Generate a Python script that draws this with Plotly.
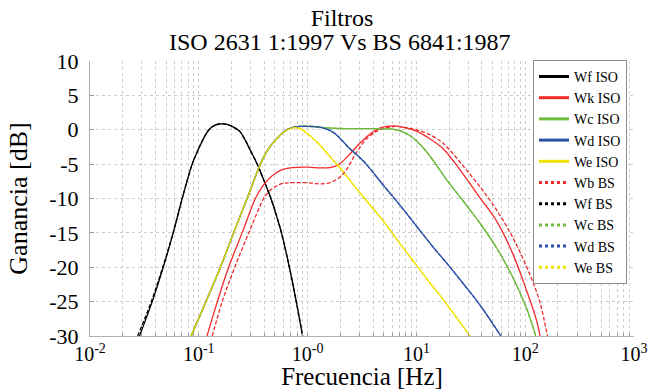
import plotly.graph_objects as go

# ---------------- data ----------------
wf_iso_f = [0.0285, 0.0373, 0.0471, 0.0582, 0.0704, 0.0869, 0.095, 0.102, 0.112, 0.124, 0.135, 0.150, 0.169, 0.188, 0.210, 0.237, 0.265, 0.298, 0.344, 0.40, 0.46, 0.52, 0.575, 0.68, 0.787, 0.90]
wf_iso_g = [-30, -25, -20, -15, -10, -5, -3.5, -2.4, -1.1, 0, 0.5, 0.8, 0.85, 0.7, 0.35, -0.2, -1.4, -3, -5, -7.5, -10, -12.6, -15, -20, -25, -30]

wk_iso_f = [0.119, 0.148, 0.188, 0.250, 0.331, 0.382, 0.420, 0.455, 0.50, 0.562, 0.63, 0.72, 1.0, 1.3, 1.61, 1.8, 2.0, 2.46, 3.0, 3.5, 4.0, 4.6, 5.34, 6.1, 6.9, 8.15, 10, 12.4, 17.7, 27, 38.4, 54.7, 77.7, 103, 127, 137]
wk_iso_g = [-30, -25, -20, -15, -10, -8.3, -7.5, -6.9, -6.4, -5.9, -5.65, -5.5, -5.45, -5.55, -5.5, -5.3, -4.9, -3.5, -2.0, -1.0, -0.3, 0.25, 0.5, 0.55, 0.5, 0.25, -0.2, -1.0, -2.8, -6.5, -9.9, -13.3, -18.2, -23.4, -27.7, -30]

wc_iso_f = [0.085, 0.158, 0.209, 0.278, 0.368, 0.40, 0.44, 0.50, 0.56, 0.63, 0.72, 0.85, 1.0, 1.3, 2.0, 4.0, 5.5, 6.5, 7.5, 8.6, 10, 12.4, 16.5, 19, 27, 38.4, 54.7, 77.7, 103, 125]
wc_iso_g = [-30, -20, -15, -10, -5, -3.8, -2.7, -1.6, -0.8, -0.1, 0.3, 0.48, 0.5, 0.35, 0.18, 0.15, 0.12, 0.0, -0.3, -0.8, -1.6, -3.2, -5.9, -7.3, -10.4, -13.6, -17.2, -21.6, -26, -30]

wd_iso_f = [0.085, 0.158, 0.209, 0.278, 0.368, 0.40, 0.44, 0.50, 0.56, 0.63, 0.72, 0.85, 1.0, 1.2, 1.4, 1.6, 1.8, 2.0, 2.46, 3.0, 3.5, 4.98, 7.08, 10, 14.3, 19, 27, 38.4, 59.8]
wd_iso_g = [-30, -20, -15, -10, -5, -3.8, -2.7, -1.6, -0.8, -0.1, 0.3, 0.48, 0.5, 0.45, 0.25, -0.1, -0.6, -1.3, -2.8, -4.0, -5.1, -8.1, -11, -14, -17.1, -19.4, -22.4, -25.5, -30]

we_iso_f = [0.085, 0.158, 0.209, 0.278, 0.368, 0.40, 0.44, 0.50, 0.56, 0.63, 0.70, 0.77, 0.85, 0.93, 1.0, 1.15, 1.31, 1.73, 2.0, 2.46, 3.0, 3.5, 4.98, 7.08, 10, 14.3, 16.5, 31.1]
we_iso_g = [-30, -20, -15, -10, -5, -3.8, -2.7, -1.6, -0.8, -0.15, 0.2, 0.3, 0.15, -0.2, -0.6, -1.4, -2.3, -4.5, -5.6, -7.4, -9.1, -10.4, -13.3, -16.6, -19.7, -22.9, -24.1, -30]

wb_bs_f = [0.133, 0.164, 0.214, 0.288, 0.394, 0.425, 0.455, 0.50, 0.562, 0.63, 0.72, 1.0, 1.22, 1.5, 1.86, 2.1, 2.3, 2.84, 3.5, 4.33, 5.34, 6.6, 8.15, 10, 12.4, 16.5, 20.4, 27, 38.4, 54.7, 77.7, 110, 136, 160]
wb_bs_g = [-30, -25, -20, -15, -10, -9.3, -8.8, -8.3, -7.9, -7.75, -7.7, -7.7, -7.85, -7.8, -7.2, -6.5, -5.7, -3.2, -1.3, -0.2, 0.3, 0.5, 0.3, 0, -0.5, -1.6, -3.0, -5.3, -8.3, -11.7, -15.8, -21.0, -25.0, -30]

wf_bs_f = [0.0274, 0.0366, 0.0466, 0.0580, 0.0703, 0.0869, 0.095, 0.102, 0.112, 0.124, 0.135, 0.150, 0.169, 0.188, 0.210, 0.237, 0.265, 0.298, 0.344, 0.40, 0.46, 0.52, 0.575, 0.68, 0.787, 0.90]
wf_bs_g = [-30, -25, -20, -15, -10, -5, -3.5, -2.4, -1.1, 0, 0.5, 0.8, 0.85, 0.7, 0.35, -0.2, -1.4, -3, -5, -7.5, -10, -12.6, -15, -20, -25, -30]

# BS Wc, Wd, We read as coincident with the ISO curves
wc_bs_f = list(wc_iso_f)
wc_bs_g = list(wc_iso_g)
wd_bs_f = list(wd_iso_f)
wd_bs_g = list(wd_iso_g)
we_bs_f = list(we_iso_f)
we_bs_g = list(we_iso_g)

series_names = ["Wf ISO", "Wk ISO", "Wc ISO", "Wd ISO", "We ISO",
                "Wb BS", "Wf BS", "Wc BS", "Wd BS", "We BS"]

y_tickvals = [10, 5, 0, -5, -10, -15, -20, -25, -30]
y_ticktext = ["10", "5", "0", "-5", "-10", "-15", "-20", "-25", "-30"]
x_decades = [0.01, 0.1, 1, 10, 100, 1000]
x_decade_text = ["10<sup>-2</sup>", "10<sup>-1</sup>", "10<sup>-0</sup>",
                 "10<sup>1</sup>", "10<sup>2</sup>", "10<sup>3</sup>"]

# ---------------- styling ----------------
BLACK = "#000000"
RED = "#f22a2a"
GREEN = "#6cbb3c"
BLUE = "#2a52a8"
YELLOW = "#f2e200"
FONT = "Liberation Serif"

series = [
    (wf_iso_f, wf_iso_g, BLACK, "solid"),
    (wk_iso_f, wk_iso_g, RED, "solid"),
    (wc_iso_f, wc_iso_g, GREEN, "solid"),
    (wd_iso_f, wd_iso_g, BLUE, "solid"),
    (we_iso_f, we_iso_g, YELLOW, "solid"),
    (wb_bs_f, wb_bs_g, RED, "4px,2px"),
    (wf_bs_f, wf_bs_g, BLACK, "4px,2px"),
    (wc_bs_f, wc_bs_g, GREEN, "4px,2px"),
    (wd_bs_f, wd_bs_g, BLUE, "4px,2px"),
    (we_bs_f, we_bs_g, YELLOW, "4px,2px"),
]

fig = go.Figure()
for (f, g, col, dash), name in zip(series, series_names):
    fig.add_trace(go.Scatter(x=f, y=g, mode="lines", name=name, showlegend=False,
                             line=dict(color=col, width=1.3, dash=dash, shape="spline", smoothing=1.0),
                             hoverinfo="skip"))
# legend entries (thicker sample lines, as in the reference)
for (f, g, col, dash), name in zip(series, series_names):
    fig.add_trace(go.Scatter(x=[None], y=[None], mode="lines", name=name,
                             line=dict(color=col, width=3, dash="solid" if dash == "solid" else "dot")))

# x tick positions: every 1..9 multiple per decade, label only the decades
x_tickvals = []
x_ticktext = []
for d, lab in zip(x_decades[:-1], x_decade_text[:-1]):
    for k in range(1, 10):
        x_tickvals.append(d * k)
        x_ticktext.append(lab if k == 1 else "")
x_tickvals.append(x_decades[-1])
x_ticktext.append(x_decade_text[-1])

fig.update_layout(
    width=657, height=390,
    margin=dict(l=90, r=23, t=61, b=54, autoexpand=False),
    paper_bgcolor="white", plot_bgcolor="white",
    font=dict(family=FONT, size=22, color="black"),
    title=dict(text="Filtros", x=342 / 657, xanchor="center", xref="container",
               y=1 - 18 / 390, yanchor="middle", yref="container",
               font=dict(family=FONT, size=24, color="black")),
    showlegend=True,
    legend=dict(x=(533 - 90) / 544, xanchor="left", y=1.004, yanchor="top",
                bgcolor="white", bordercolor="#8c8c8c", borderwidth=1,
                font=dict(family=FONT, size=14, color="black"),
                tracegroupgap=0, maxheight=320),
    annotations=[dict(text="ISO 2631 1:1997 Vs BS 6841:1987", xref="paper", yref="paper",
                      x=(340 - 90) / 544, y=(336 - 42) / 275, xanchor="center", yanchor="middle",
                      showarrow=False, font=dict(family=FONT, size=24, color="black"))],
)

fig.update_xaxes(type="log", range=[-2, 3], tickmode="array", tickvals=x_tickvals, ticktext=x_ticktext,
                 automargin=False, tickangle=0,
                 showgrid=True, gridcolor="#cdcdcd", griddash="dot", gridwidth=1,
                 ticks="inside", ticklen=3, tickcolor="#9a9a9a",
                 showline=True, linecolor="#b0b0b0", linewidth=1, zeroline=False,
                 tickfont=dict(family=FONT, size=20, color="black"),
                 title=dict(text="Frecuencia [Hz]", font=dict(family=FONT, size=25, color="black"), standoff=0))
fig.update_yaxes(range=[-30, 10], tickmode="array", tickvals=y_tickvals, ticktext=y_ticktext,
                 automargin=False,
                 showgrid=True, gridcolor="#cdcdcd", griddash="dot", gridwidth=1,
                 ticks="inside", ticklen=4, tickcolor="#9a9a9a",
                 showline=True, linecolor="#b0b0b0", linewidth=1, zeroline=False,
                 ticklabelstandoff=6,
                 tickfont=dict(family=FONT, size=22, color="black"),
                 title=dict(text="Ganancia [dB]", font=dict(family=FONT, size=26, color="black"), standoff=14))

fig.write_html("out.html", config={"displayModeBar": False},
               post_script="document.body.style.margin='0px';")
